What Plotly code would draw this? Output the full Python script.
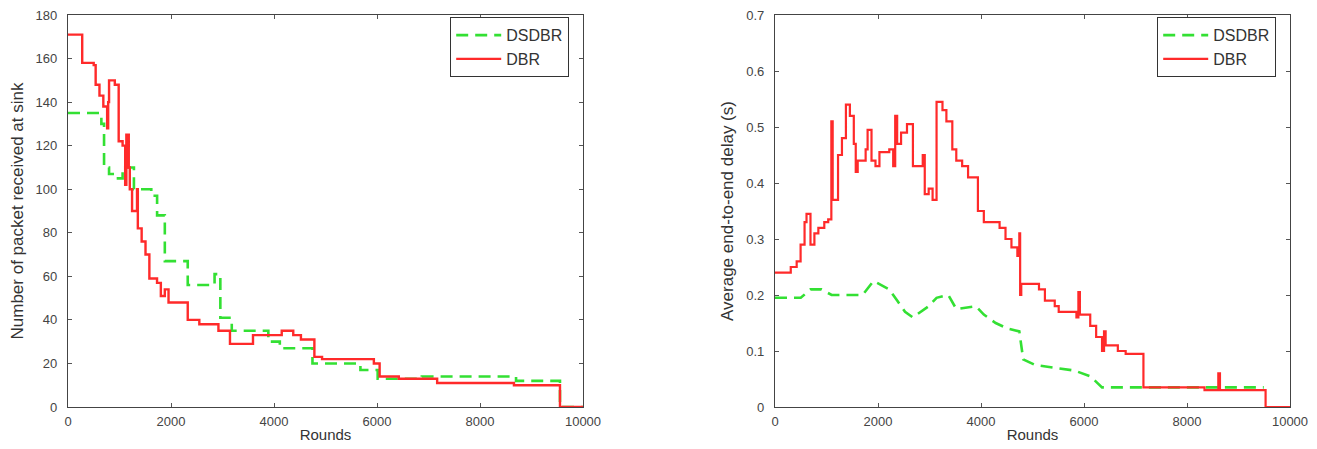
import plotly.graph_objects as go

# ---------------- Data ----------------
# Left: Number of packets received at sink
dbr_left_x = [0, 276, 499, 537, 611, 686, 760, 780, 797, 909, 984, 1060, 1110, 1133, 1180, 1200, 1244,
              1340, 1356, 1380, 1430, 1505, 1580, 1729, 1803, 1880, 1952, 2325, 2550, 2921, 3145,
              3592, 4150, 4374, 4523, 4784, 4933, 5939, 6051, 6423, 7168, 8659, 9553, 10000]
dbr_left_y = [171, 158, 157, 148, 143, 138, 128, 140, 150, 148, 122, 120, 102, 125, 110, 100, 90,
              100, 82, 82, 76, 70, 59, 57, 51, 54, 48, 40, 38, 35, 29,
              33, 35, 33, 31, 23, 22, 20, 14, 13, 11, 10, 0, 0]

dsdbr_left_x = [0, 648, 700, 797, 909, 1060, 1280, 1617, 1730, 1880, 2325, 2846, 2958, 3180,
                3890, 4113, 4747, 5082, 5678, 6013, 6870, 8700, 9553, 10000]
dsdbr_left_y = [135, 130, 110, 107, 105, 110, 100, 97, 88, 67, 56, 61, 41, 35,
                30, 27, 20, 20, 17, 13, 14, 12, 0, 0]

# Right: Average end-to-end delay (s)
dbr_right_x = [0, 306, 421, 497, 574, 612, 689, 765, 842, 957, 1033, 1094, 1120, 1148, 1224, 1300,
               1377, 1454, 1530, 1568, 1606, 1760, 1798, 1874, 1951, 2028, 2219, 2295, 2334, 2372,
               2448, 2563, 2678, 2869, 2908, 2984, 3060, 3137, 3252, 3328, 3443, 3520, 3634, 3749,
               3940, 4055, 4361, 4476, 4591, 4706, 4744, 4760, 4782, 5126, 5241, 5432, 5509, 5853,
               5891, 5920, 5968, 6121, 6236, 6350, 6389, 6420, 6504, 6657, 6809, 7154, 8340, 8608,
               8640, 9526, 10000]
dbr_right_y = [0.24, 0.25, 0.26, 0.29, 0.33, 0.345, 0.29, 0.31, 0.32, 0.33, 0.335, 0.51, 0.37, 0.37,
               0.45, 0.48, 0.54, 0.52, 0.47, 0.42, 0.44, 0.46, 0.495, 0.44, 0.43, 0.455, 0.46, 0.43,
               0.52, 0.47, 0.49, 0.505, 0.43, 0.45, 0.38, 0.39, 0.37, 0.545, 0.53, 0.51, 0.46, 0.44,
               0.43, 0.41, 0.35, 0.33, 0.32, 0.30, 0.285, 0.27, 0.31, 0.20, 0.22, 0.21, 0.19, 0.18,
               0.17, 0.16, 0.205, 0.165, 0.165, 0.145, 0.125, 0.10, 0.135, 0.11, 0.11, 0.10, 0.095,
               0.035, 0.03, 0.06, 0.03, 0.0, 0.0]

dsdbr_right_x = [0, 500, 689, 900, 1100, 1700, 1913, 2219, 2372, 2525, 2678, 2984, 3137, 3366,
                 3520, 3902, 4055, 4285, 4515, 4744, 4820, 5050, 5432, 5815, 6121, 6350, 9490]
dsdbr_right_y = [0.195, 0.195, 0.21, 0.21, 0.20, 0.20, 0.225, 0.21, 0.19, 0.17, 0.16, 0.18, 0.195,
                 0.20, 0.175, 0.18, 0.165, 0.15, 0.14, 0.135, 0.085, 0.075, 0.07, 0.065, 0.055,
                 0.035, 0.035]

x_ticks = [0, 2000, 4000, 6000, 8000, 10000]
x_tick_labels = ["0", "2000", "4000", "6000", "8000", "10000"]
left_y_ticks = list(range(0, 181, 20))
right_y_ticks = [0, 0.1, 0.2, 0.3, 0.4, 0.5, 0.6, 0.7]
right_y_labels = ["0", "0.1", "0.2", "0.3", "0.4", "0.5", "0.6", "0.7"]

RED = "#ff2a2a"
GREEN = "#33e033"
DASH = "12px,7px"

# The page body has an 8px margin, so the figure is drawn 8px smaller and offset.
OFF = 8
W, H = 1317 - OFF, 449 - OFF

fig = go.Figure()

fig.add_trace(go.Scatter(x=dsdbr_left_x, y=dsdbr_left_y, mode="lines", line_shape="hv",
                         line=dict(color=GREEN, width=2.6, dash=DASH), name="DSDBR",
                         xaxis="x", yaxis="y", legend="legend"))
fig.add_trace(go.Scatter(x=dbr_left_x, y=dbr_left_y, mode="lines", line_shape="hv",
                         line=dict(color=RED, width=2.4), name="DBR",
                         xaxis="x", yaxis="y", legend="legend"))
fig.add_trace(go.Scatter(x=dsdbr_right_x, y=dsdbr_right_y, mode="lines",
                         line=dict(color=GREEN, width=2.6, dash=DASH), name="DSDBR",
                         xaxis="x2", yaxis="y2", legend="legend2"))
fig.add_trace(go.Scatter(x=dbr_right_x, y=dbr_right_y, mode="lines", line_shape="hv",
                         line=dict(color=RED, width=2.2), name="DBR",
                         xaxis="x2", yaxis="y2", legend="legend2"))

PLOT_TOP, PLOT_BOTTOM = 15, 407
MT = PLOT_TOP - OFF
MB = 449 - PLOT_BOTTOM
ph = PLOT_BOTTOM - PLOT_TOP


def px_x(p):
    return (p - OFF) / W


def px_y(p):
    return (PLOT_BOTTOM - p) / ph


FONT = "Liberation Sans, Arial"
axis_common = dict(showline=True, linecolor="#444", linewidth=1.3, mirror="ticks",
                   ticks="inside", ticklen=4, tickcolor="#555", showgrid=False, zeroline=False,
                   automargin=False, ticklabeloverflow="allow",
                   tickfont=dict(family=FONT, size=13, color="#444"))
xtitle_font = dict(family=FONT, size=15, color="#333")
ytitle_font = dict(family=FONT, size=17, color="#333")

legend_common = dict(xanchor="right", yanchor="top", bordercolor="#333", borderwidth=1.2,
                     bgcolor="white", tracegroupgap=0, itemwidth=45,
                     font=dict(family=FONT, size=16, color="#333"))

fig.update_layout(
    width=W, height=H,
    margin=dict(l=0, r=0, t=MT, b=MB),
    paper_bgcolor="white", plot_bgcolor="white",
    xaxis=dict(domain=[px_x(68), px_x(583)], range=[0, 10000], tickvals=x_ticks,
               ticktext=x_tick_labels, ticklabelstandoff=2,
               title=dict(text="Rounds", standoff=1, font=xtitle_font), anchor="y",
               **axis_common),
    yaxis=dict(domain=[0, 1], range=[0, 180], tickvals=left_y_ticks, ticklabelstandoff=7,
               title=dict(text="Number of packet received at sink", standoff=8,
                          font=ytitle_font), anchor="x",
               **axis_common),
    xaxis2=dict(domain=[px_x(775), px_x(1290)], range=[0, 10000], tickvals=x_ticks,
                ticktext=x_tick_labels, ticklabelstandoff=2,
                title=dict(text="Rounds", standoff=1, font=xtitle_font), anchor="y2",
                **axis_common),
    yaxis2=dict(domain=[0, 1], range=[0, 0.7], tickvals=right_y_ticks, ticktext=right_y_labels,
                ticklabelstandoff=7,
                title=dict(text="Average end-to-end delay (s)", standoff=8,
                           font=ytitle_font), anchor="x2",
                **axis_common),
    legend=dict(x=px_x(569), y=px_y(17), **legend_common),
    legend2=dict(x=px_x(1276), y=px_y(17), **legend_common),
)

fig.write_html("out.html")
